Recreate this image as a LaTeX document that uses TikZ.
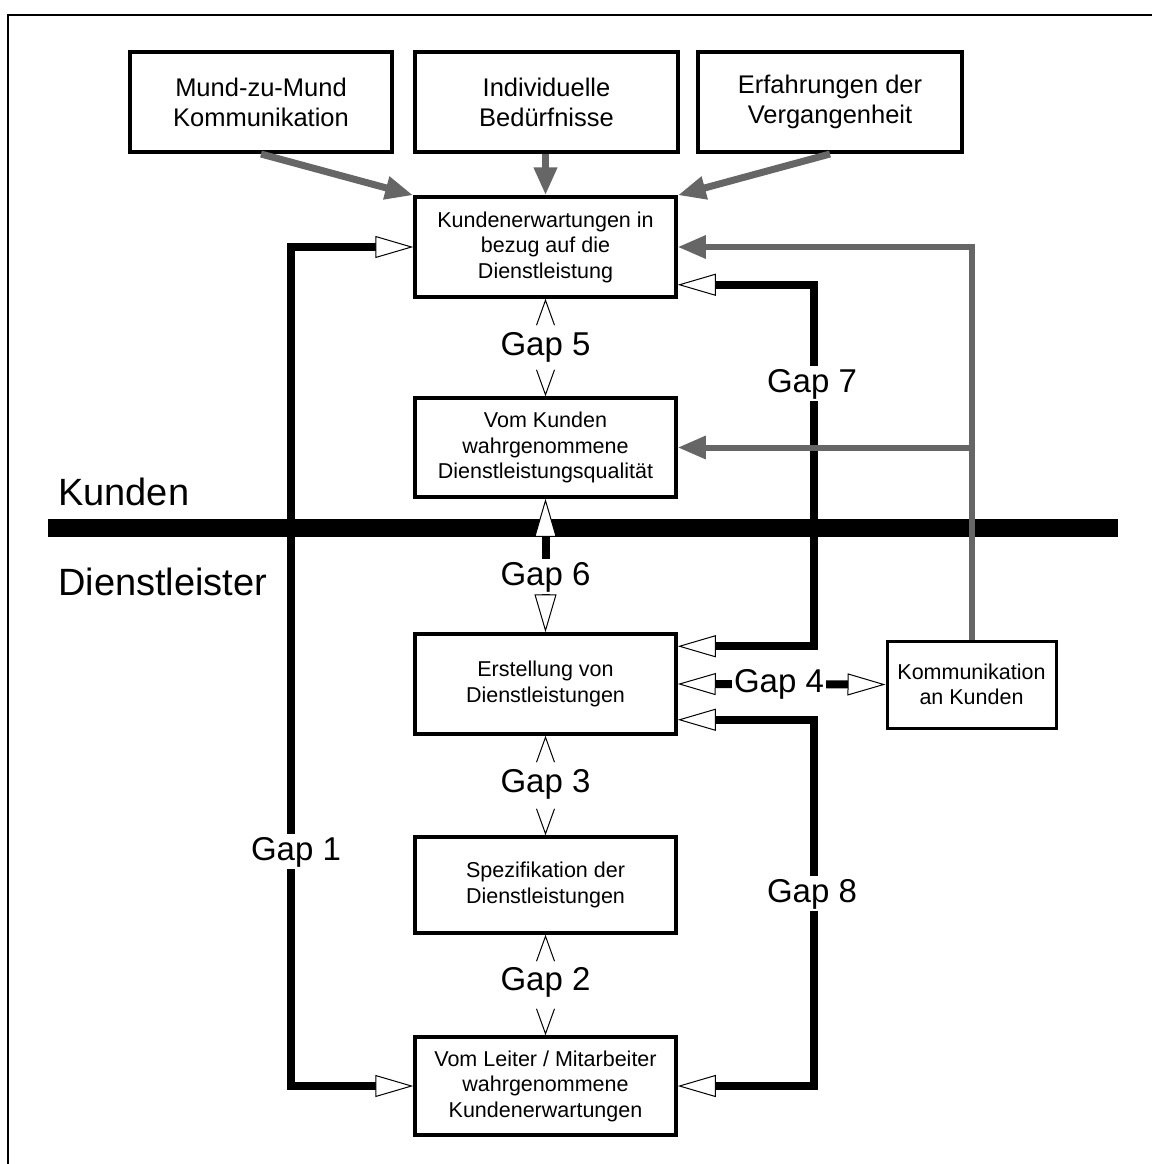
\documentclass[tikz,border=0pt]{standalone}
\usepackage{fontspec}
\setmainfont{Liberation Sans}
\usetikzlibrary{arrows.meta,calc}
\definecolor{gline}{HTML}{666666}
\tikzset{
  openhead/.tip={Triangle[length=38pt,width=22pt,fill=white,line width=1pt 0]},
  greyhead/.tip={Triangle[length=28pt,width=22pt]},
  barbhead/.tip={Straight Barb[length=25pt,width=18pt,line width=1pt 0,color=black]},
}
\begin{document}
\begin{tikzpicture}[x=1pt,y=-1pt,
  box/.style={draw, line width=3.5pt, inner sep=0pt, align=center, font=\fontsize{21.5}{25.5}\selectfont},
  topbox/.style={box, line width=4pt, font=\fontsize{25.5}{30}\selectfont},
  gaplabel/.style={fill=white, inner sep=2pt, font=\fontsize{33}{38}\selectfont, text height=24pt, text depth=7pt, anchor=base},
  sidelabel/.style={anchor=base west, inner sep=0pt, font=\fontsize{38}{44}\selectfont},
  gapthick/.style={line width=8pt, openhead-openhead},
  greyarrow/.style={gline, line width=7pt, -greyhead},
  greyline/.style={gline, line width=6pt, -greyhead},
  thinarrow/.style={white, line width=1pt, -barbhead}
]
\useasboundingbox (0,0) rectangle (1152,1164);
% frame
\draw[line width=2pt] (8,1164) -- (8,15) -- (1152,15);
% divider
\fill (48,519) rectangle (1118,537);
\node[sidelabel] (kunden) at (58,505) {Kunden};
\node[sidelabel] (dienst) at (58,595) {Dienstleister};

% boxes
\node[topbox, minimum width=262pt, minimum height=100pt] (m1) at (261,102) {Mund-zu-Mund\\Kommunikation};
\node[topbox, minimum width=263pt, minimum height=100pt] (m2) at (546.5,102) {Individuelle\\Bedürfnisse};
\node[topbox, minimum width=264pt, minimum height=100pt] (m3) at (830,102) {Erfahrungen der\\Vergangenheit};
\node[box, minimum width=261pt, minimum height=100pt] (k1) at (545.5,247) {Kundenerwartungen in\\bezug auf die\\Dienstleistung};
\node[box, minimum width=261pt, minimum height=99pt] (vk) at (545.5,447.5) {Vom Kunden\\wahrgenommene\\Dienstleistungsqualität};
\node[box, minimum width=261pt, minimum height=100pt] (ers) at (545.5,684) {Erstellung von\\Dienstleistungen};
\node[box, line width=3pt, minimum width=169pt, minimum height=87pt] (kom) at (971.5,684.5) {Kommunikation\\an Kunden};
\node[box, minimum width=261pt, minimum height=96pt] (spz) at (545.5,885) {Spezifikation der\\Dienstleistungen};
\node[box, minimum width=261pt, minimum height=98pt] (vl) at (545.5,1086) {Vom Leiter / Mitarbeiter\\wahrgenommene\\Kundenerwartungen};

% grey influences
\draw[greyarrow] (m1.south) -- (k1.north west);
\draw[greyarrow] (k1.north |- m2.south) -- (k1.north);
\draw[greyarrow] (m3.south) -- (k1.north east);

% black gap connectors
\draw[gapthick] (k1.west) -- ++(-122,0) |- (vl.west);
\draw[gapthick] ($(ers.north east)+(0,14)$) -- ++(136,0) |- ($(k1.south east)+(0,-14)$);
\draw[gapthick] ($(ers.south east)+(0,-16)$) -- ++(136,0) |- (vl.east);
\draw[gapthick] (ers.east) -- (kom.west);
\draw[gapthick] (vk.south) -- (ers.north);

% grey communication lines
\draw[greyline] (kom.north) |- (k1.east);
\draw[greyline] (kom.north |- vk.east) -- (vk.east);

% labels
\node[gaplabel] (g5) at (545.5,355) {Gap 5};
\node[gaplabel] (g6) at (545.5,585) {Gap 6};
\node[gaplabel] (g3) at (545.5,792) {Gap 3};
\node[gaplabel] (g2) at (545.5,990) {Gap 2};
\node[gaplabel] (g4) at (779,692) {Gap 4};
\node[gaplabel] (g7) at (812,392) {Gap 7};
\node[gaplabel] (g8) at (812,902) {Gap 8};
\node[gaplabel] (g1) at (296,860) {Gap 1};

% thin gap arrows
\draw[thinarrow] (g5) -- (k1);
\draw[thinarrow] (g5) -- (vk);
\draw[thinarrow] (g3) -- (ers);
\draw[thinarrow] (g3) -- (spz);
\draw[thinarrow] (g2) -- (spz);
\draw[thinarrow] (g2) -- (vl);
\end{tikzpicture}
\end{document}
